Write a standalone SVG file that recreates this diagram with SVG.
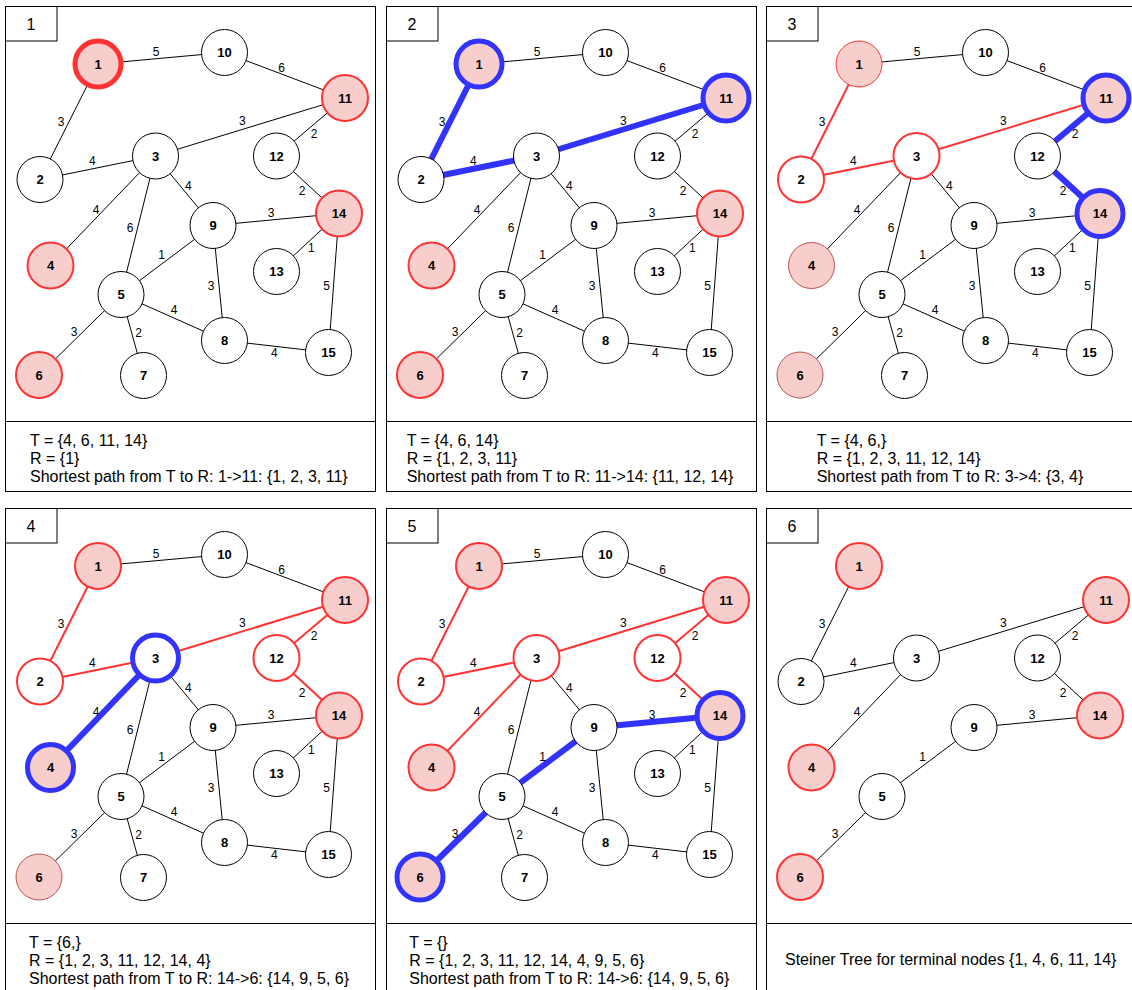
<svg xmlns="http://www.w3.org/2000/svg" xmlns:xlink="http://www.w3.org/1999/xlink" width="1132" height="990" viewBox="0 0 1132 990">
<style>
  .frame{fill:#fff;stroke:#000;stroke-width:1}
  .rule{stroke:#000;stroke-width:1}
  .ptitle{font:16px "Liberation Sans",Arial,sans-serif;fill:#000;text-anchor:middle}
  .foot{font:16px "Liberation Sans",Arial,sans-serif;fill:#000}
  .e{stroke:#000;stroke-width:1;fill:none}
  .er{stroke:#FF3333;stroke-width:2;fill:none}
  .eb{stroke:#3333FF;stroke-width:6;fill:none}
  .lbl{font:12px "Liberation Sans",Arial,sans-serif;fill:#000;stroke:none;text-anchor:middle}
  .nl{font:bold 13px "Liberation Sans",Arial,sans-serif;fill:#000;stroke:none;text-anchor:middle}
  .n{fill:#fff;stroke:#000;stroke-width:1}
  .nt{fill:#F8CECC;stroke:#FF3333;stroke-width:2}
  .nt1{fill:#F8CECC;stroke:#FF3333;stroke-width:1}
  .nt5{fill:#F8CECC;stroke:#FF3333;stroke-width:5}
  .nr{fill:#fff;stroke:#FF3333;stroke-width:2}
  .nb{fill:#F8CECC;stroke:#3333FF;stroke-width:5}
  .nbw{fill:#fff;stroke:#3333FF;stroke-width:5}
  .nd{fill:#F8CECC;stroke:#B85450;stroke-width:1}
</style>
<defs>
  <!-- edge geometry (panel-local coordinates) -->
  <line id="e1-10" x1="98" y1="64" x2="224.5" y2="52.5"/>
  <line id="e10-11" x1="224.5" y1="52.5" x2="345" y2="98"/>
  <line id="e1-2" x1="98" y1="64" x2="40" y2="179.5"/>
  <line id="e3-11" x1="155.5" y1="156" x2="345" y2="98"/>
  <line id="e11-12" x1="345" y1="98" x2="276.5" y2="156"/>
  <line id="e2-3" x1="40" y1="179.5" x2="155.5" y2="156"/>
  <line id="e3-9" x1="155.5" y1="156" x2="213" y2="225.5"/>
  <line id="e12-14" x1="276.5" y1="156" x2="339" y2="213.5"/>
  <line id="e3-4" x1="155.5" y1="156" x2="50.5" y2="265.5"/>
  <line id="e3-5" x1="155.5" y1="156" x2="121" y2="294.5"/>
  <line id="e9-14" x1="213" y1="225.5" x2="339" y2="213.5"/>
  <line id="e14-13" x1="339" y1="213.5" x2="276.5" y2="271.5"/>
  <line id="e5-9" x1="121" y1="294.5" x2="213" y2="225.5"/>
  <line id="e9-8" x1="213" y1="225.5" x2="224.5" y2="340.5"/>
  <line id="e14-15" x1="339" y1="213.5" x2="328.5" y2="352.5"/>
  <line id="e5-8" x1="121" y1="294.5" x2="224.5" y2="340.5"/>
  <line id="e5-6" x1="121" y1="294.5" x2="39" y2="375"/>
  <line id="e5-7" x1="121" y1="294.5" x2="143.5" y2="375.5"/>
  <line id="e8-15" x1="224.5" y1="340.5" x2="328.5" y2="352.5"/>
  <!-- edge weights -->
  <text id="l1-10" class="lbl" x="156" y="56">5</text>
  <text id="l10-11" class="lbl" x="281.7" y="72">6</text>
  <text id="l1-2" class="lbl" x="61" y="126">3</text>
  <text id="l3-11" class="lbl" x="242.3" y="125">3</text>
  <text id="l11-12" class="lbl" x="314" y="138.3">2</text>
  <text id="l2-3" class="lbl" x="92.3" y="165">4</text>
  <text id="l3-9" class="lbl" x="188.3" y="189.6">4</text>
  <text id="l12-14" class="lbl" x="302" y="195">2</text>
  <text id="l3-4" class="lbl" x="96" y="214.3">4</text>
  <text id="l3-5" class="lbl" x="130" y="232">6</text>
  <text id="l9-14" class="lbl" x="271" y="216.6">3</text>
  <text id="l14-13" class="lbl" x="311.3" y="252.3">1</text>
  <text id="l5-9" class="lbl" x="161.7" y="259.3">1</text>
  <text id="l9-8" class="lbl" x="211" y="290.3">3</text>
  <text id="l14-15" class="lbl" x="326.7" y="289.6">5</text>
  <text id="l5-8" class="lbl" x="174" y="314.3">4</text>
  <text id="l5-6" class="lbl" x="74" y="336">3</text>
  <text id="l5-7" class="lbl" x="138.7" y="336.6">2</text>
  <text id="l8-15" class="lbl" x="274.3" y="356.6">4</text>
  <!-- node shapes -->
  <g id="N1"><circle cx="98" cy="64" r="23"/><text class="nl" x="98" y="68.7">1</text></g>
  <g id="N2"><circle cx="40" cy="179.5" r="23"/><text class="nl" x="40" y="184.2">2</text></g>
  <g id="N3"><circle cx="155.5" cy="156" r="23"/><text class="nl" x="155.5" y="160.7">3</text></g>
  <g id="N4"><circle cx="50.5" cy="265.5" r="23"/><text class="nl" x="50.5" y="270.2">4</text></g>
  <g id="N5"><circle cx="121" cy="294.5" r="23"/><text class="nl" x="121" y="299.2">5</text></g>
  <g id="N6"><circle cx="39" cy="375" r="23"/><text class="nl" x="39" y="379.7">6</text></g>
  <g id="N7"><circle cx="143.5" cy="375.5" r="23"/><text class="nl" x="143.5" y="380.2">7</text></g>
  <g id="N8"><circle cx="224.5" cy="340.5" r="23"/><text class="nl" x="224.5" y="345.2">8</text></g>
  <g id="N9"><circle cx="213" cy="225.5" r="23"/><text class="nl" x="213" y="230.2">9</text></g>
  <g id="N10"><circle cx="224.5" cy="52.5" r="23"/><text class="nl" x="224.5" y="57.2">10</text></g>
  <g id="N11"><circle cx="345" cy="98" r="23"/><text class="nl" x="345" y="102.7">11</text></g>
  <g id="N12"><circle cx="276.5" cy="156" r="23"/><text class="nl" x="276.5" y="160.7">12</text></g>
  <g id="N13"><circle cx="276.5" cy="271.5" r="23"/><text class="nl" x="276.5" y="276.2">13</text></g>
  <g id="N14"><circle cx="339" cy="213.5" r="23"/><text class="nl" x="339" y="218.2">14</text></g>
  <g id="N15"><circle cx="328.5" cy="352.5" r="23"/><text class="nl" x="328.5" y="357.2">15</text></g>
  <!-- panel frame -->
  <g id="frame">
    <rect class="frame" x="5.5" y="6.5" width="370" height="485"/>
    <line class="rule" x1="5.5" y1="421.5" x2="375.5" y2="421.5"/>
    <rect class="frame" x="5.5" y="6.5" width="51.5" height="34.5"/>
  </g>
</defs>

<rect width="1132" height="990" fill="#fff"/>

<!-- step 1 -->
<g id="panel1">
  <use href="#frame"/>
  <text class="ptitle" x="31" y="30">1</text>
  <g id="p1-edges">
    <use href="#e1-10" class="e"/><use href="#e10-11" class="e"/><use href="#e1-2" class="e"/><use href="#e3-11" class="e"/>
    <use href="#e11-12" class="e"/><use href="#e2-3" class="e"/><use href="#e3-9" class="e"/><use href="#e12-14" class="e"/>
    <use href="#e3-4" class="e"/><use href="#e3-5" class="e"/><use href="#e9-14" class="e"/><use href="#e14-13" class="e"/>
    <use href="#e5-9" class="e"/><use href="#e9-8" class="e"/><use href="#e14-15" class="e"/><use href="#e5-8" class="e"/>
    <use href="#e5-6" class="e"/><use href="#e5-7" class="e"/><use href="#e8-15" class="e"/>
    <use href="#l1-10"/><use href="#l10-11"/><use href="#l1-2"/><use href="#l3-11"/><use href="#l11-12"/><use href="#l2-3"/>
    <use href="#l3-9"/><use href="#l12-14"/><use href="#l3-4"/><use href="#l3-5"/><use href="#l9-14"/><use href="#l14-13"/>
    <use href="#l5-9"/><use href="#l9-8"/><use href="#l14-15"/><use href="#l5-8"/><use href="#l5-6"/><use href="#l5-7"/><use href="#l8-15"/>
  </g>
  <g id="p1-n1"><use href="#N1" class="nt5"/></g>
  <g id="p1-n2"><use href="#N2" class="n"/></g>
  <g id="p1-n3"><use href="#N3" class="n"/></g>
  <g id="p1-n4"><use href="#N4" class="nt"/></g>
  <g id="p1-n5"><use href="#N5" class="n"/></g>
  <g id="p1-n6"><use href="#N6" class="nt"/></g>
  <g id="p1-n7"><use href="#N7" class="n"/></g>
  <g id="p1-n8"><use href="#N8" class="n"/></g>
  <g id="p1-n9"><use href="#N9" class="n"/></g>
  <g id="p1-n10"><use href="#N10" class="n"/></g>
  <g id="p1-n11"><use href="#N11" class="nt"/></g>
  <g id="p1-n12"><use href="#N12" class="n"/></g>
  <g id="p1-n13"><use href="#N13" class="n"/></g>
  <g id="p1-n14"><use href="#N14" class="nt"/></g>
  <g id="p1-n15"><use href="#N15" class="n"/></g>
  <text class="foot" x="30" y="446">T = {4, 6, 11, 14}</text>
  <text class="foot" x="30" y="464">R = {1}</text>
  <text class="foot" x="30" y="482">Shortest path from T to R: 1-&gt;11: {1, 2, 3, 11}</text>
</g>

<!-- step 2 -->
<g id="panel2" transform="translate(381,0)">
  <use href="#frame"/>
  <text class="ptitle" x="31" y="30">2</text>
  <g id="p2-edges">
    <use href="#e1-10" class="e"/><use href="#e10-11" class="e"/><use href="#e1-2" class="eb"/><use href="#e3-11" class="eb"/>
    <use href="#e11-12" class="e"/><use href="#e2-3" class="eb"/><use href="#e3-9" class="e"/><use href="#e12-14" class="e"/>
    <use href="#e3-4" class="e"/><use href="#e3-5" class="e"/><use href="#e9-14" class="e"/><use href="#e14-13" class="e"/>
    <use href="#e5-9" class="e"/><use href="#e9-8" class="e"/><use href="#e14-15" class="e"/><use href="#e5-8" class="e"/>
    <use href="#e5-6" class="e"/><use href="#e5-7" class="e"/><use href="#e8-15" class="e"/>
    <use href="#l1-10"/><use href="#l10-11"/><use href="#l1-2"/><use href="#l3-11"/><use href="#l11-12"/><use href="#l2-3"/>
    <use href="#l3-9"/><use href="#l12-14"/><use href="#l3-4"/><use href="#l3-5"/><use href="#l9-14"/><use href="#l14-13"/>
    <use href="#l5-9"/><use href="#l9-8"/><use href="#l14-15"/><use href="#l5-8"/><use href="#l5-6"/><use href="#l5-7"/><use href="#l8-15"/>
  </g>
  <g id="p2-n1"><use href="#N1" class="nb"/></g>
  <g id="p2-n2"><use href="#N2" class="n"/></g>
  <g id="p2-n3"><use href="#N3" class="n"/></g>
  <g id="p2-n4"><use href="#N4" class="nt"/></g>
  <g id="p2-n5"><use href="#N5" class="n"/></g>
  <g id="p2-n6"><use href="#N6" class="nt"/></g>
  <g id="p2-n7"><use href="#N7" class="n"/></g>
  <g id="p2-n8"><use href="#N8" class="n"/></g>
  <g id="p2-n9"><use href="#N9" class="n"/></g>
  <g id="p2-n10"><use href="#N10" class="n"/></g>
  <g id="p2-n11"><use href="#N11" class="nb"/></g>
  <g id="p2-n12"><use href="#N12" class="n"/></g>
  <g id="p2-n13"><use href="#N13" class="n"/></g>
  <g id="p2-n14"><use href="#N14" class="nt"/></g>
  <g id="p2-n15"><use href="#N15" class="n"/></g>
  <text class="foot" x="25.7" y="446">T = {4, 6, 14}</text>
  <text class="foot" x="25.7" y="464">R = {1, 2, 3, 11}</text>
  <text class="foot" x="25.7" y="482">Shortest path from T to R: 11-&gt;14: {11, 12, 14}</text>
</g>

<!-- step 3 -->
<g id="panel3" transform="translate(761,0)">
  <use href="#frame"/>
  <text class="ptitle" x="31" y="30">3</text>
  <g id="p3-edges">
    <use href="#e1-10" class="e"/><use href="#e10-11" class="e"/><use href="#e1-2" class="er"/><use href="#e3-11" class="er"/>
    <use href="#e11-12" class="eb"/><use href="#e2-3" class="er"/><use href="#e3-9" class="e"/><use href="#e12-14" class="eb"/>
    <use href="#e3-4" class="e"/><use href="#e3-5" class="e"/><use href="#e9-14" class="e"/><use href="#e14-13" class="e"/>
    <use href="#e5-9" class="e"/><use href="#e9-8" class="e"/><use href="#e14-15" class="e"/><use href="#e5-8" class="e"/>
    <use href="#e5-6" class="e"/><use href="#e5-7" class="e"/><use href="#e8-15" class="e"/>
    <use href="#l1-10"/><use href="#l10-11"/><use href="#l1-2"/><use href="#l3-11"/><use href="#l11-12"/><use href="#l2-3"/>
    <use href="#l3-9"/><use href="#l12-14"/><use href="#l3-4"/><use href="#l3-5"/><use href="#l9-14"/><use href="#l14-13"/>
    <use href="#l5-9"/><use href="#l9-8"/><use href="#l14-15"/><use href="#l5-8"/><use href="#l5-6"/><use href="#l5-7"/><use href="#l8-15"/>
  </g>
  <g id="p3-n1"><use href="#N1" class="nt1"/></g>
  <g id="p3-n2"><use href="#N2" class="nr"/></g>
  <g id="p3-n3"><use href="#N3" class="nr"/></g>
  <g id="p3-n4"><use href="#N4" class="nd"/></g>
  <g id="p3-n5"><use href="#N5" class="n"/></g>
  <g id="p3-n6"><use href="#N6" class="nd"/></g>
  <g id="p3-n7"><use href="#N7" class="n"/></g>
  <g id="p3-n8"><use href="#N8" class="n"/></g>
  <g id="p3-n9"><use href="#N9" class="n"/></g>
  <g id="p3-n10"><use href="#N10" class="n"/></g>
  <g id="p3-n11"><use href="#N11" class="nb"/></g>
  <g id="p3-n12"><use href="#N12" class="n"/></g>
  <g id="p3-n13"><use href="#N13" class="n"/></g>
  <g id="p3-n14"><use href="#N14" class="nb"/></g>
  <g id="p3-n15"><use href="#N15" class="n"/></g>
  <text class="foot" x="55.7" y="446">T = {4, 6,}</text>
  <text class="foot" x="55.7" y="464">R = {1, 2, 3, 11, 12, 14}</text>
  <text class="foot" x="55.7" y="482">Shortest path from T to R: 3-&gt;4: {3, 4}</text>
</g>

<!-- step 4 -->
<g id="panel4" transform="translate(0,502)">
  <use href="#frame"/>
  <text class="ptitle" x="31" y="30">4</text>
  <g id="p4-edges">
    <use href="#e1-10" class="e"/><use href="#e10-11" class="e"/><use href="#e1-2" class="er"/><use href="#e3-11" class="er"/>
    <use href="#e11-12" class="er"/><use href="#e2-3" class="er"/><use href="#e3-9" class="e"/><use href="#e12-14" class="er"/>
    <use href="#e3-4" class="eb"/><use href="#e3-5" class="e"/><use href="#e9-14" class="e"/><use href="#e14-13" class="e"/>
    <use href="#e5-9" class="e"/><use href="#e9-8" class="e"/><use href="#e14-15" class="e"/><use href="#e5-8" class="e"/>
    <use href="#e5-6" class="e"/><use href="#e5-7" class="e"/><use href="#e8-15" class="e"/>
    <use href="#l1-10"/><use href="#l10-11"/><use href="#l1-2"/><use href="#l3-11"/><use href="#l11-12"/><use href="#l2-3"/>
    <use href="#l3-9"/><use href="#l12-14"/><use href="#l3-4"/><use href="#l3-5"/><use href="#l9-14"/><use href="#l14-13"/>
    <use href="#l5-9"/><use href="#l9-8"/><use href="#l14-15"/><use href="#l5-8"/><use href="#l5-6"/><use href="#l5-7"/><use href="#l8-15"/>
  </g>
  <g id="p4-n1"><use href="#N1" class="nt"/></g>
  <g id="p4-n2"><use href="#N2" class="nr"/></g>
  <g id="p4-n3"><use href="#N3" class="nbw"/></g>
  <g id="p4-n4"><use href="#N4" class="nb"/></g>
  <g id="p4-n5"><use href="#N5" class="n"/></g>
  <g id="p4-n6"><use href="#N6" class="nd"/></g>
  <g id="p4-n7"><use href="#N7" class="n"/></g>
  <g id="p4-n8"><use href="#N8" class="n"/></g>
  <g id="p4-n9"><use href="#N9" class="n"/></g>
  <g id="p4-n10"><use href="#N10" class="n"/></g>
  <g id="p4-n11"><use href="#N11" class="nt"/></g>
  <g id="p4-n12"><use href="#N12" class="nr"/></g>
  <g id="p4-n13"><use href="#N13" class="n"/></g>
  <g id="p4-n14"><use href="#N14" class="nt"/></g>
  <g id="p4-n15"><use href="#N15" class="n"/></g>
  <text class="foot" x="29" y="446">T = {6,}</text>
  <text class="foot" x="29" y="464">R = {1, 2, 3, 11, 12, 14, 4}</text>
  <text class="foot" x="29" y="482">Shortest path from T to R: 14-&gt;6: {14, 9, 5, 6}</text>
</g>

<!-- step 5 -->
<g id="panel5" transform="translate(381,502)">
  <use href="#frame"/>
  <text class="ptitle" x="31" y="30">5</text>
  <g id="p5-edges">
    <use href="#e1-10" class="e"/><use href="#e10-11" class="e"/><use href="#e1-2" class="er"/><use href="#e3-11" class="er"/>
    <use href="#e11-12" class="er"/><use href="#e2-3" class="er"/><use href="#e3-9" class="e"/><use href="#e12-14" class="er"/>
    <use href="#e3-4" class="er"/><use href="#e3-5" class="e"/><use href="#e9-14" class="eb"/><use href="#e14-13" class="e"/>
    <use href="#e5-9" class="eb"/><use href="#e9-8" class="e"/><use href="#e14-15" class="e"/><use href="#e5-8" class="e"/>
    <use href="#e5-6" class="eb"/><use href="#e5-7" class="e"/><use href="#e8-15" class="e"/>
    <use href="#l1-10"/><use href="#l10-11"/><use href="#l1-2"/><use href="#l3-11"/><use href="#l11-12"/><use href="#l2-3"/>
    <use href="#l3-9"/><use href="#l12-14"/><use href="#l3-4"/><use href="#l3-5"/><use href="#l9-14"/><use href="#l14-13"/>
    <use href="#l5-9"/><use href="#l9-8"/><use href="#l14-15"/><use href="#l5-8"/><use href="#l5-6"/><use href="#l5-7"/><use href="#l8-15"/>
  </g>
  <g id="p5-n1"><use href="#N1" class="nt"/></g>
  <g id="p5-n2"><use href="#N2" class="nr"/></g>
  <g id="p5-n3"><use href="#N3" class="nr"/></g>
  <g id="p5-n4"><use href="#N4" class="nt"/></g>
  <g id="p5-n5"><use href="#N5" class="n"/></g>
  <g id="p5-n6"><use href="#N6" class="nb"/></g>
  <g id="p5-n7"><use href="#N7" class="n"/></g>
  <g id="p5-n8"><use href="#N8" class="n"/></g>
  <g id="p5-n9"><use href="#N9" class="n"/></g>
  <g id="p5-n10"><use href="#N10" class="n"/></g>
  <g id="p5-n11"><use href="#N11" class="nt"/></g>
  <g id="p5-n12"><use href="#N12" class="nr"/></g>
  <g id="p5-n13"><use href="#N13" class="n"/></g>
  <g id="p5-n14"><use href="#N14" class="nb"/></g>
  <g id="p5-n15"><use href="#N15" class="n"/></g>
  <text class="foot" x="28.3" y="446">T = {}</text>
  <text class="foot" x="28.3" y="464">R = {1, 2, 3, 11, 12, 14, 4, 9, 5, 6}</text>
  <text class="foot" x="28.3" y="482">Shortest path from T to R: 14-&gt;6: {14, 9, 5, 6}</text>
</g>

<!-- resulting Steiner tree -->
<g id="panel6" transform="translate(761,502)">
  <use href="#frame"/>
  <text class="ptitle" x="31" y="30">6</text>
  <g id="p6-edges">
    <use href="#e1-2" class="e"/><use href="#e3-11" class="e"/><use href="#e11-12" class="e"/><use href="#e2-3" class="e"/>
    <use href="#e12-14" class="e"/><use href="#e3-4" class="e"/><use href="#e9-14" class="e"/><use href="#e5-9" class="e"/>
    <use href="#e5-6" class="e"/>
    <use href="#l1-2"/><use href="#l3-11"/><use href="#l11-12"/><use href="#l2-3"/><use href="#l12-14"/><use href="#l3-4"/>
    <use href="#l9-14"/><use href="#l5-9"/><use href="#l5-6"/>
  </g>
  <g id="p6-n1"><use href="#N1" class="nt"/></g>
  <g id="p6-n2"><use href="#N2" class="n"/></g>
  <g id="p6-n3"><use href="#N3" class="n"/></g>
  <g id="p6-n4"><use href="#N4" class="nt"/></g>
  <g id="p6-n5"><use href="#N5" class="n"/></g>
  <g id="p6-n6"><use href="#N6" class="nt"/></g>
  <g id="p6-n9"><use href="#N9" class="n"/></g>
  <g id="p6-n11"><use href="#N11" class="nt"/></g>
  <g id="p6-n12"><use href="#N12" class="n"/></g>
  <g id="p6-n14"><use href="#N14" class="nt"/></g>
  <text class="foot" x="24" y="463">Steiner Tree for terminal nodes {1, 4, 6, 11, 14}</text>
</g>
</svg>
